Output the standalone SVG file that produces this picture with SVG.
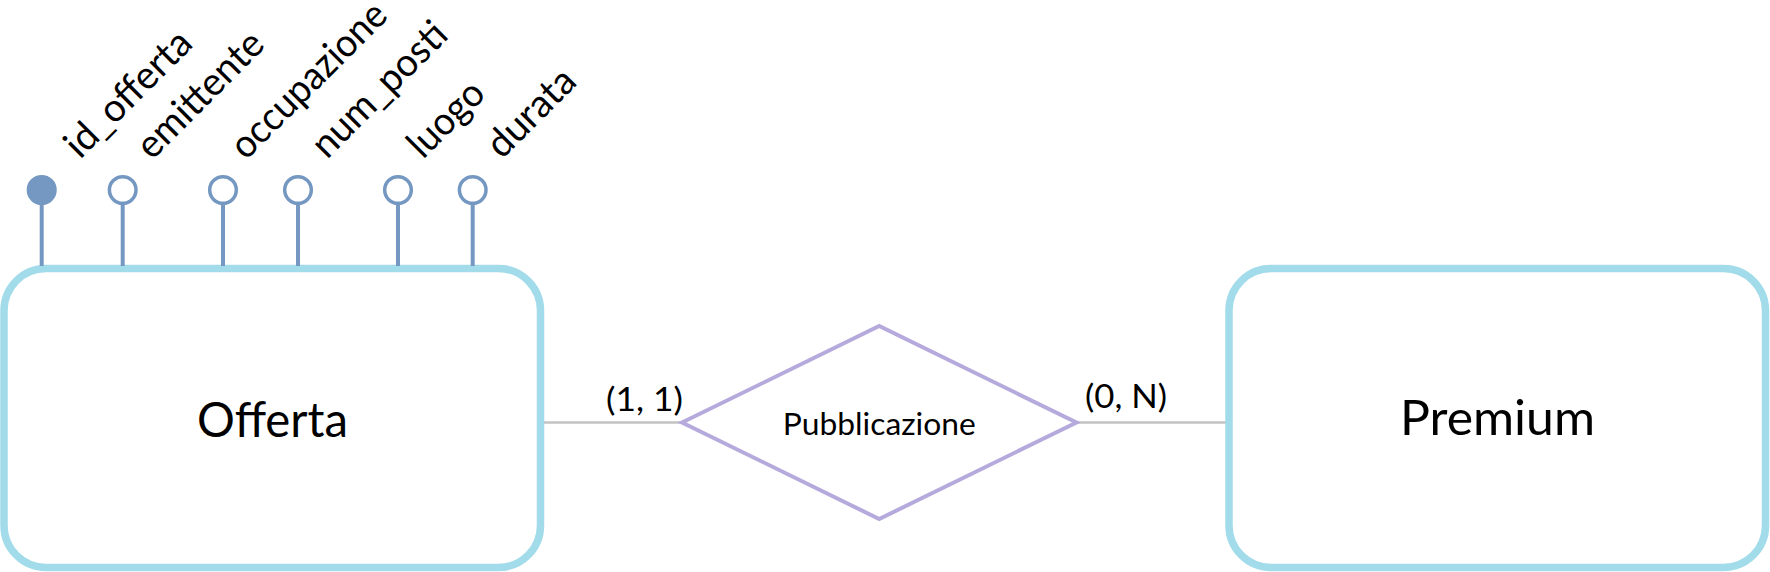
<svg xmlns="http://www.w3.org/2000/svg" width="1770" height="572" viewBox="0 0 1770 572">
<style>
.entity{fill:#ffffff;stroke:#a2dbea;stroke-width:7.5}
.rel{fill:#ffffff;stroke:#b6aadd;stroke-width:4}
.conn{stroke:#c3c3c3;stroke-width:2.5;fill:none}
.attrline{stroke:#7598c2;stroke-width:4}
.attr{fill:#ffffff;stroke:#7598c2;stroke-width:3.5}
.attrkey{fill:#7598c2;stroke:#7598c2;stroke-width:3.5}
text{font-family:Lato,"Liberation Sans",sans-serif;fill:#000000}
.ename{font-size:48px;text-anchor:middle}
.rname{font-size:31px;text-anchor:middle}
.card{font-size:33px;text-anchor:middle}
.aname{font-size:39px}
</style>
<g id="connectors">
<line class="conn" x1="540" y1="422.5" x2="682" y2="422.5"/>
<line class="conn" x1="1076" y1="422.5" x2="1229" y2="422.5"/>
<text class="card" x="644.5" y="411" textLength="77" lengthAdjust="spacingAndGlyphs">(1, 1)</text>
<text class="card" x="1126" y="408" textLength="82" lengthAdjust="spacingAndGlyphs">(0, N)</text>
</g>
<g id="offerta">
<rect class="entity" x="4" y="268.5" width="536.5" height="299" rx="42" ry="42"/>
<text class="ename" x="272.5" y="437" textLength="151" lengthAdjust="spacingAndGlyphs">Offerta</text>
</g>
<g id="premium">
<rect class="entity" x="1229" y="268.5" width="536.5" height="299" rx="42" ry="42"/>
<text class="ename" x="1497.5" y="435" textLength="195" lengthAdjust="spacingAndGlyphs">Premium</text>
</g>
<g id="pubblicazione">
<polygon class="rel" points="682,422.5 879.2,326 1076.5,422.5 879.2,519"/>
<text class="rname" x="879.3" y="435" textLength="193" lengthAdjust="spacingAndGlyphs">Pubblicazione</text>
</g>
<g id="attr-id_offerta">
<line class="attrline" x1="41.7" y1="203" x2="41.7" y2="266"/>
<circle class="attrkey" cx="41.7" cy="190" r="13.3"/>
<text class="aname" transform="translate(80,160) rotate(-45)" textLength="162" lengthAdjust="spacingAndGlyphs">id_offerta</text>
</g>
<g id="attr-emittente">
<line class="attrline" x1="122.7" y1="203" x2="122.7" y2="266"/>
<circle class="attr" cx="122.7" cy="190" r="13.3"/>
<text class="aname" transform="translate(152,161) rotate(-45)" textLength="162" lengthAdjust="spacingAndGlyphs">emittente</text>
</g>
<g id="attr-occupazione">
<line class="attrline" x1="223" y1="203" x2="223" y2="266"/>
<circle class="attr" cx="223" cy="190" r="13.3"/>
<text class="aname" transform="translate(246,161) rotate(-45)" textLength="203" lengthAdjust="spacingAndGlyphs">occupazione</text>
</g>
<g id="attr-num_posti">
<line class="attrline" x1="298" y1="203" x2="298" y2="266"/>
<circle class="attr" cx="298" cy="190" r="13.3"/>
<text class="aname" transform="translate(327,160) rotate(-45)" textLength="174" lengthAdjust="spacingAndGlyphs">num_posti</text>
</g>
<g id="attr-luogo">
<line class="attrline" x1="398" y1="203" x2="398" y2="266"/>
<circle class="attr" cx="398" cy="190" r="13.3"/>
<text class="aname" transform="translate(423,160) rotate(-45)" textLength="91" lengthAdjust="spacingAndGlyphs">luogo</text>
</g>
<g id="attr-durata">
<line class="attrline" x1="472.7" y1="203" x2="472.7" y2="266"/>
<circle class="attr" cx="472.7" cy="190" r="13.3"/>
<text class="aname" transform="translate(502,160) rotate(-45)" textLength="108" lengthAdjust="spacingAndGlyphs">durata</text>
</g>
</svg>
